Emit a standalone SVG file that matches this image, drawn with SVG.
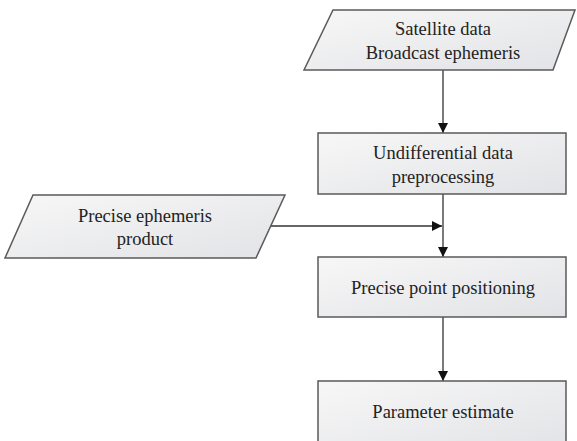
<svg xmlns="http://www.w3.org/2000/svg" width="577" height="441" viewBox="0 0 577 441">
<style>
.shape{fill:url(#g);stroke:#5a5a5a;stroke-width:1.5}
.t{font-family:'Liberation Serif','Times New Roman','DejaVu Serif',serif;font-size:18.5px;fill:#222;text-anchor:middle}
.c{fill:none;stroke:#333;stroke-width:1.3}
</style>
<defs>
<linearGradient id="g" x1="0" y1="0" x2="1" y2="1">
<stop offset="0" stop-color="#f7f7f7"/>
<stop offset="1" stop-color="#e2e3e6"/>
</linearGradient>
<marker id="ah" viewBox="0 0 10 10" refX="10" refY="5" markerWidth="10" markerHeight="10" markerUnits="userSpaceOnUse" orient="auto">
<path d="M0,0 L10,5 L0,10 Z" fill="#111"/>
</marker>
</defs>
<rect width="577" height="441" fill="#fff"/>
<g id="connectors">
<path class="c" d="M443,70 V133" marker-end="url(#ah)"/>
<path class="c" d="M443,194 V257" marker-end="url(#ah)"/>
<path class="c" d="M270,226 H442" marker-end="url(#ah)"/>
<path class="c" d="M443,317 V381" marker-end="url(#ah)"/>
</g>
<g id="satellite">
<polygon class="shape" points="333,10 575,10 553,70 304,70"/>
<text class="t" x="443" y="35" font-family="Liberation Serif, serif">Satellite data</text>
<text class="t" x="443" y="59" font-family="Liberation Serif, serif">Broadcast ephemeris</text>
</g>
<g id="preprocessing">
<rect class="shape" x="318" y="133" width="248" height="61"/>
<text class="t" x="443" y="159" font-family="Liberation Serif, serif">Undifferential data</text>
<text class="t" x="443" y="183" font-family="Liberation Serif, serif">preprocessing</text>
</g>
<g id="precise-ephemeris">
<polygon class="shape" points="33,195 285,195 256,258 5,258"/>
<text class="t" x="145" y="222" font-family="Liberation Serif, serif">Precise ephemeris</text>
<text class="t" x="145" y="245" font-family="Liberation Serif, serif">product</text>
</g>
<g id="ppp">
<rect class="shape" x="318" y="257" width="248" height="60"/>
<text class="t" x="443" y="294" font-family="Liberation Serif, serif">Precise point positioning</text>
</g>
<g id="parameter">
<rect class="shape" x="318" y="381" width="248" height="70"/>
<text class="t" x="443" y="418" font-family="Liberation Serif, serif">Parameter estimate</text>
</g>
</svg>
